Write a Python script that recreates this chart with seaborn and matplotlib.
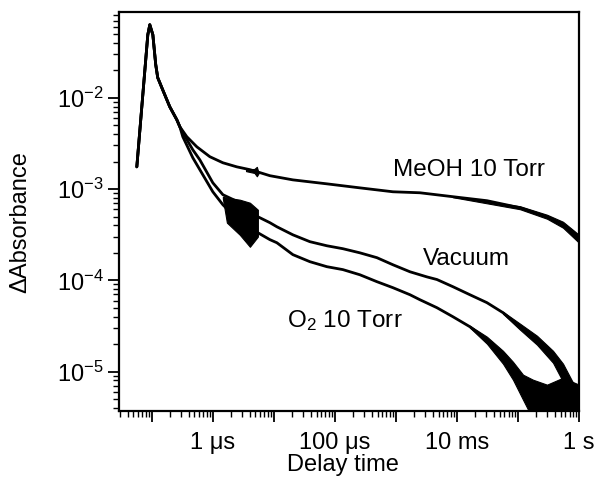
import matplotlib
matplotlib.use("Agg")
import numpy as np
import pandas as pd
import matplotlib.pyplot as plt
import seaborn as sns
from matplotlib.ticker import FixedLocator, FixedFormatter, LogLocator, NullFormatter

# ---------------- data ----------------
# shared rise / peak / early decay
rise_t = [5.68e-8, 8.60e-8, 9.27e-8, 1.04e-7, 1.16e-7, 1.25e-7, 1.51e-7, 1.97e-7, 2.57e-7, 2.88e-7]
rise_A = [1.75e-3, 4.90e-2, 6.31e-2, 4.90e-2, 2.30e-2, 1.66e-2, 1.22e-2, 7.96e-3, 5.74e-3, 4.81e-3]

meoh_t = [3.75e-7, 5.47e-7, 8.93e-7, 1.46e-6, 2.47e-6, 4.05e-6, 5.26e-6, 8.60e-6,
          2.05e-5, 7.39e-5, 2.57e-4, 8.94e-4, 2.47e-3, 8.59e-3, 3.10e-2, 0.108,
          0.299, 0.547, 0.798, 1.0]
meoh_A = [3.74e-3, 2.90e-3, 2.26e-3, 1.94e-3, 1.75e-3, 1.63e-3, 1.55e-3, 1.40e-3,
          1.26e-3, 1.14e-3, 1.03e-3, 9.33e-4, 9.10e-4, 8.24e-4, 7.45e-4, 6.24e-4,
          4.97e-4, 4.06e-4, 3.41e-4, 2.86e-4]

vac_t = [3.22e-7, 4.70e-7, 6.12e-7, 1.00e-6, 1.46e-6, 2.77e-6, 5.47e-6, 8.60e-6,
         1.12e-5, 2.05e-5, 3.89e-5, 7.39e-5, 1.35e-4, 2.57e-4, 4.88e-4, 8.94e-4,
         1.70e-3, 3.22e-3, 4.70e-3, 8.59e-3, 1.63e-2, 3.10e-2, 5.68e-2, 0.108,
         0.205, 0.375, 0.547, 0.798, 0.927]
vac_A = [4.14e-3, 2.69e-3, 2.09e-3, 1.17e-3, 8.67e-4, 7.08e-4, 4.97e-4, 4.28e-4,
         3.86e-4, 3.15e-4, 2.65e-4, 2.39e-4, 2.22e-4, 2.00e-4, 1.77e-4, 1.48e-4,
         1.24e-4, 1.09e-4, 1.02e-4, 8.51e-5, 6.95e-5, 5.69e-5, 4.42e-5, 3.10e-5,
         2.23e-5, 1.46e-5, 9.73e-6, 5.31e-6, 3.55e-6]

o2_t = [3.22e-7, 4.70e-7, 6.12e-7, 1.00e-6, 1.46e-6, 2.77e-6, 5.47e-6, 8.60e-6,
        1.12e-5, 2.05e-5, 3.89e-5, 7.39e-5, 1.35e-4, 2.57e-4, 4.88e-4, 8.94e-4,
        1.70e-3, 2.47e-3, 4.70e-3, 8.59e-3, 1.63e-2, 3.10e-2, 5.68e-2, 8.28e-2,
        0.121, 0.176]
o2_A = [3.74e-3, 2.20e-3, 1.63e-3, 9.33e-4, 6.73e-4, 4.38e-4, 3.32e-4, 2.79e-4,
        2.58e-4, 1.91e-4, 1.60e-4, 1.41e-4, 1.31e-4, 1.15e-4, 9.66e-5, 8.30e-5,
        6.95e-5, 6.13e-5, 5.01e-5, 3.99e-5, 3.10e-5, 2.23e-5, 1.46e-5, 1.05e-5,
        6.84e-6, 4.13e-6]

# noise envelopes (upper / lower extent of the noisy traces)
blob_t = [1.46e-6, 1.70e-6, 2.77e-6, 4.05e-6, 5.47e-6]
blob_hi = [8.24e-4, 8.03e-4, 7.64e-4, 7.08e-4, 5.93e-4]
blob_lo = [7.84e-4, 4.28e-4, 3.15e-4, 2.33e-4, 3.01e-4]

meohs_t = [3.50e-6, 4.80e-6, 5.26e-6, 5.60e-6]
meohs_hi = [1.64e-3, 1.66e-3, 1.75e-3, 1.52e-3]
meohs_lo = [1.57e-3, 1.50e-3, 1.38e-3, 1.48e-3]

meohn_t = [8.59e-3, 0.108, 0.299, 0.547, 1.0]
meohn_hi = [8.34e-4, 6.48e-4, 5.23e-4, 4.38e-4, 3.15e-4]
meohn_lo = [8.13e-4, 6.01e-4, 4.73e-4, 3.77e-4, 2.58e-4]

vacn_t = [5.68e-2, 0.108, 0.205, 0.375, 0.547, 0.798, 1.0]
vacn_hi = [4.53e-5, 3.35e-5, 2.47e-5, 1.69e-5, 1.22e-5, 7.55e-6, 5.59e-6]
vacn_lo = [4.30e-5, 2.88e-5, 1.97e-5, 1.25e-5, 7.74e-6, 3.0e-6, 3.0e-6]

o2n_t = [1.63e-2, 3.10e-2, 5.68e-2, 8.28e-2, 0.121, 0.176, 0.299, 0.547, 1.0]
o2n_hi = [3.18e-5, 2.41e-5, 1.69e-5, 1.28e-5, 9.25e-6, 8.15e-6, 7.19e-6, 8.57e-6, 7.19e-6]
o2n_lo = [3.03e-5, 2.02e-5, 1.22e-5, 8.15e-6, 4.92e-6, 3.0e-6, 3.0e-6, 3.0e-6, 3.0e-6]

x_major = [1e-7, 1e-6, 1e-5, 1e-4, 1e-3, 1e-2, 1e-1, 1e0]
x_labels = ["", "1 \u03bcs", "", "100 \u03bcs", "", "10 ms", "", "1 s"]
y_major = [1e-5, 1e-4, 1e-3, 1e-2]
y_labels = [r"10$^{-5}$", r"10$^{-4}$", r"10$^{-3}$", r"10$^{-2}$"]

labels = ["MeOH 10 Torr", "Vacuum", r"O$_2$ 10 Torr"]

# ---------------- build table ----------------
frames = []
for name, t, a in [("MeOH", meoh_t, meoh_A), ("Vacuum", vac_t, vac_A), ("O2", o2_t, o2_A)]:
    frames.append(pd.DataFrame({"t": rise_t + t, "A": rise_A + a, "series": name}))
df = pd.concat(frames, ignore_index=True)

# ---------------- style ----------------
sns.set_style("ticks")
plt.rcParams["font.family"] = ["Liberation Sans", "DejaVu Sans"]
plt.rcParams["mathtext.fontset"] = "custom"
plt.rcParams["mathtext.rm"] = "Liberation Sans"
plt.rcParams["mathtext.it"] = "Liberation Sans"
plt.rcParams["mathtext.bf"] = "Liberation Sans"
plt.rcParams["mathtext.default"] = "regular"

fig = plt.figure(figsize=(5.95, 4.84), dpi=100)
ax = fig.add_axes([119 / 595, 1 - 411 / 484, 460 / 595, 399 / 484])

sns.lineplot(data=df, x="t", y="A", hue="series",
             palette={"MeOH": "black", "Vacuum": "black", "O2": "black"},
             estimator=None, sort=False, legend=False, lw=2.0, ax=ax)

for t, lo, hi in [(blob_t, blob_lo, blob_hi), (meohs_t, meohs_lo, meohs_hi),
                  (meohn_t, meohn_lo, meohn_hi), (vacn_t, vacn_lo, vacn_hi),
                  (o2n_t, o2n_lo, o2n_hi)]:
    ax.fill_between(t, lo, hi, color="black", lw=0.8, edgecolor="black")

ax.set_xscale("log")
ax.set_yscale("log")
ax.set_xlim(2.9e-8, 1.0)
ax.set_ylim(3.7e-6, 0.087)

ax.xaxis.set_major_locator(FixedLocator(x_major))
ax.xaxis.set_major_formatter(FixedFormatter(x_labels))
ax.xaxis.set_minor_locator(LogLocator(base=10, subs=np.arange(2, 10), numticks=50))
ax.xaxis.set_minor_formatter(NullFormatter())
ax.yaxis.set_major_locator(FixedLocator(y_major))
ax.yaxis.set_major_formatter(FixedFormatter(y_labels))
ax.yaxis.set_minor_locator(LogLocator(base=10, subs=np.arange(2, 10), numticks=50))
ax.yaxis.set_minor_formatter(NullFormatter())

ax.tick_params(which="major", direction="out", length=8, width=1.3,
               labelsize=17, color="black", labelcolor="black", pad=3)
ax.tick_params(axis="x", which="major", pad=7)
ax.tick_params(which="minor", direction="out", length=4, width=1.0, color="black")
for s in ax.spines.values():
    s.set_linewidth(1.6)
    s.set_color("black")

ax.set_xlabel("Delay time", fontsize=17, color="black")
ax.set_ylabel("\u0394Absorbance", fontsize=17, color="black")
ax.xaxis.set_label_coords(0.487, -0.108)
ax.yaxis.set_label_coords(-0.19, 0.474)

ax.text(0.596, 0.589, labels[0], transform=ax.transAxes, fontsize=17.5,
        ha="left", va="baseline", color="black")
ax.text(0.661, 0.366, labels[1], transform=ax.transAxes, fontsize=17.5,
        ha="left", va="baseline", color="black")
ax.text(0.365, 0.211, labels[2], transform=ax.transAxes, fontsize=17.5,
        ha="left", va="baseline", color="black")

fig.savefig("out.png", dpi=100)
